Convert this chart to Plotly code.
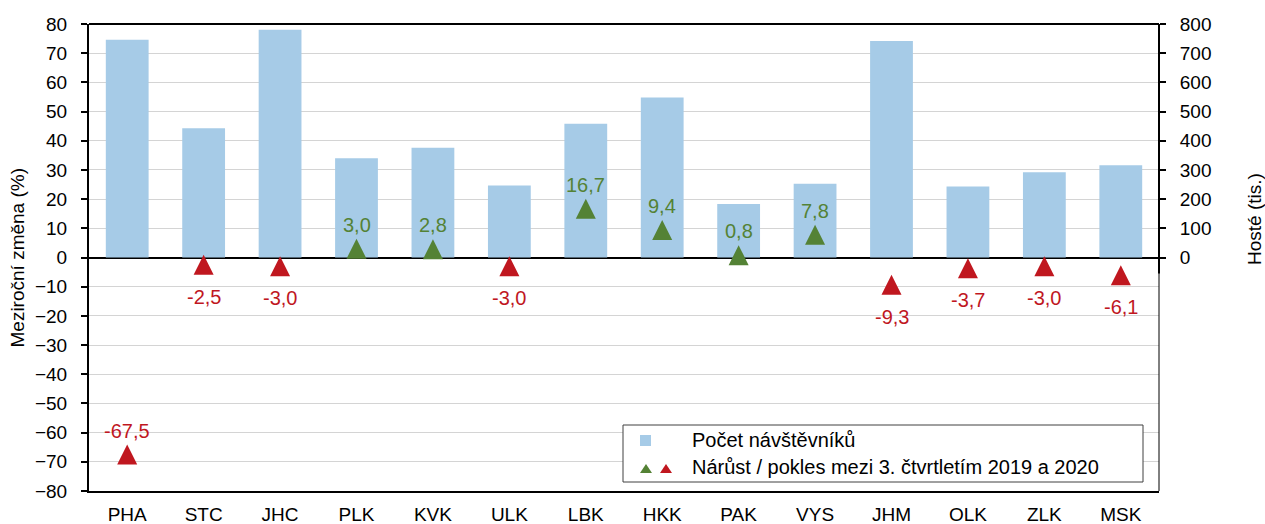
import plotly.graph_objects as go

categories = ["PHA", "STC", "JHC", "PLK", "KVK", "ULK", "LBK", "HKK", "PAK", "VYS", "JHM", "OLK", "ZLK", "MSK"]
guests = [746, 443, 780, 340, 376, 247, 458, 548, 183, 253, 742, 243, 292, 316]
change = [-67.5, -2.5, -3.0, 3.0, 2.8, -3.0, 16.7, 9.4, 0.8, 7.8, -9.3, -3.7, -3.0, -6.1]
label_above = [True, False, False, True, True, False, True, True, True, True, False, False, False, False]

GREEN = "#548235"
RED = "#c0171f"
BLUE = "#a6cbe7"
FONT = "Liberation Sans, Arial, sans-serif"

W, H = 1265, 524
PL, PR, PT, PB = 89, 1159, 24, 491          # plot area in pixels
PLOT_H = PB - PT
TRI = 20                                     # triangle size in px
shift_units = (TRI / 2) * 160 / PLOT_H       # centre arrow-shaped triangles on their values

colors = [GREEN if v > 0 else RED for v in change]

fig = go.Figure()
fig.add_trace(go.Bar(x=categories, y=guests, yaxis="y2", marker=dict(color=BLUE, line=dict(width=0)),
                     width=0.56, showlegend=False, name="Počet návštěvníků"))
fig.add_trace(go.Scatter(x=categories, y=change, yaxis="y3", mode="markers",
                         marker=dict(symbol="arrow-up", size=TRI, color=colors, line=dict(width=0)),
                         showlegend=False, name="Nárůst / pokles"))


def px(xp):
    return (xp - PL) / (PR - PL)


def py(yp):
    return (PB - yp) / PLOT_H


annotations = []
for c, v, up, col in zip(categories, change, label_above, colors):
    annotations.append(dict(x=c, y=v, xref="x", yref="y", text=f"{v:.1f}".replace(".", ","),
                            showarrow=False, yshift=24 if up else -32,
                            font=dict(family=FONT, size=20, color=col)))

annotations.append(dict(x=px(17), y=0.5, xref="paper", yref="paper", text="Meziroční změna (%)",
                        showarrow=False, textangle=-90, font=dict(family=FONT, size=19, color="#000"),
                        xanchor="center", yanchor="middle"))
annotations.append(dict(x=px(1254), y=py(219), xref="paper", yref="paper",
                        text="Hosté (tis.)", showarrow=False, textangle=-90,
                        font=dict(family=FONT, size=19, color="#000"), xanchor="center", yanchor="middle"))

# legend (manual)
annotations.append(dict(x=px(690), y=py(440), xref="paper", yref="paper", text="Počet návštěvníků",
                        showarrow=False, xanchor="left", yanchor="middle",
                        font=dict(family=FONT, size=20, color="#000")))
annotations.append(dict(x=px(690), y=py(467), xref="paper", yref="paper",
                        text="Nárůst / pokles mezi 3. čtvrtletím 2019 a 2020",
                        showarrow=False, xanchor="left", yanchor="middle",
                        font=dict(family=FONT, size=20, color="#000")))

shapes = [
    dict(type="line", xref="paper", yref="paper", x0=0, x1=1, y0=1, y1=1, line=dict(color="#000", width=2)),
    dict(type="line", xref="paper", yref="paper", x0=1, x1=1, y0=0, y1=1, line=dict(color="#000", width=1)),
    dict(type="line", xref="paper", yref="y", x0=1, x1=1, y0=-5.5, y1=80, line=dict(color="#000", width=2)),
    dict(type="rect", xref="paper", yref="paper", x0=px(623), x1=px(1143), y0=py(482), y1=py(425),
         line=dict(color="#404040", width=1), fillcolor="white", layer="above"),
    dict(type="rect", xref="paper", yref="paper", x0=px(640), x1=px(651), y0=py(446), y1=py(435),
         line=dict(width=0), fillcolor=BLUE, layer="above"),
]


def tri(cx, cy, color):
    return dict(type="path", xref="paper", yref="paper",
                path=f"M {px(cx-6)} {py(cy+4)} L {px(cx+6)} {py(cy+4)} L {px(cx)} {py(cy-5)} Z",
                fillcolor=color, line=dict(width=0), layer="above")


shapes.append(tri(646, 469, GREEN))
shapes.append(tri(666, 469, RED))

fig.update_layout(
    width=W, height=H,
    margin=dict(l=PL, r=W - PR, t=PT, b=H - PB, autoexpand=False),
    paper_bgcolor="white", plot_bgcolor="white",
    font=dict(family=FONT, size=19, color="#000"),
    xaxis=dict(range=[-0.5, len(categories) - 0.5], showline=True, linecolor="#000", linewidth=2,
               ticks="", showgrid=False, tickfont=dict(size=19), ticklabelstandoff=5, automargin=False),
    yaxis=dict(range=[-80, 80], dtick=10, tick0=0, showline=True, linecolor="#000", linewidth=2,
               ticks="outside", ticklen=6, tickwidth=1.5, tickcolor="#000",
               gridcolor="#d4d4d4", gridwidth=1, zeroline=True, zerolinecolor="#000", zerolinewidth=2,
               tickfont=dict(size=19), ticklabelstandoff=10, automargin=False),
    yaxis2=dict(overlaying="y", side="right", range=[-800, 800], tickvals=list(range(0, 801, 100)),
                showgrid=False, zeroline=False, showline=False, ticks="outside", ticklen=6,
                tickwidth=1.5, tickcolor="#000", tickfont=dict(size=19), ticklabelstandoff=10,
                automargin=False),
    yaxis3=dict(overlaying="y", range=[-80 - shift_units, 80 - shift_units], visible=False,
                showgrid=False, zeroline=False),
    annotations=annotations,
    shapes=shapes,
    showlegend=False,
)

fig.write_html("out.html", config={"displayModeBar": False},
               post_script="document.body.style.margin='0px'; document.body.style.overflow='hidden';")
